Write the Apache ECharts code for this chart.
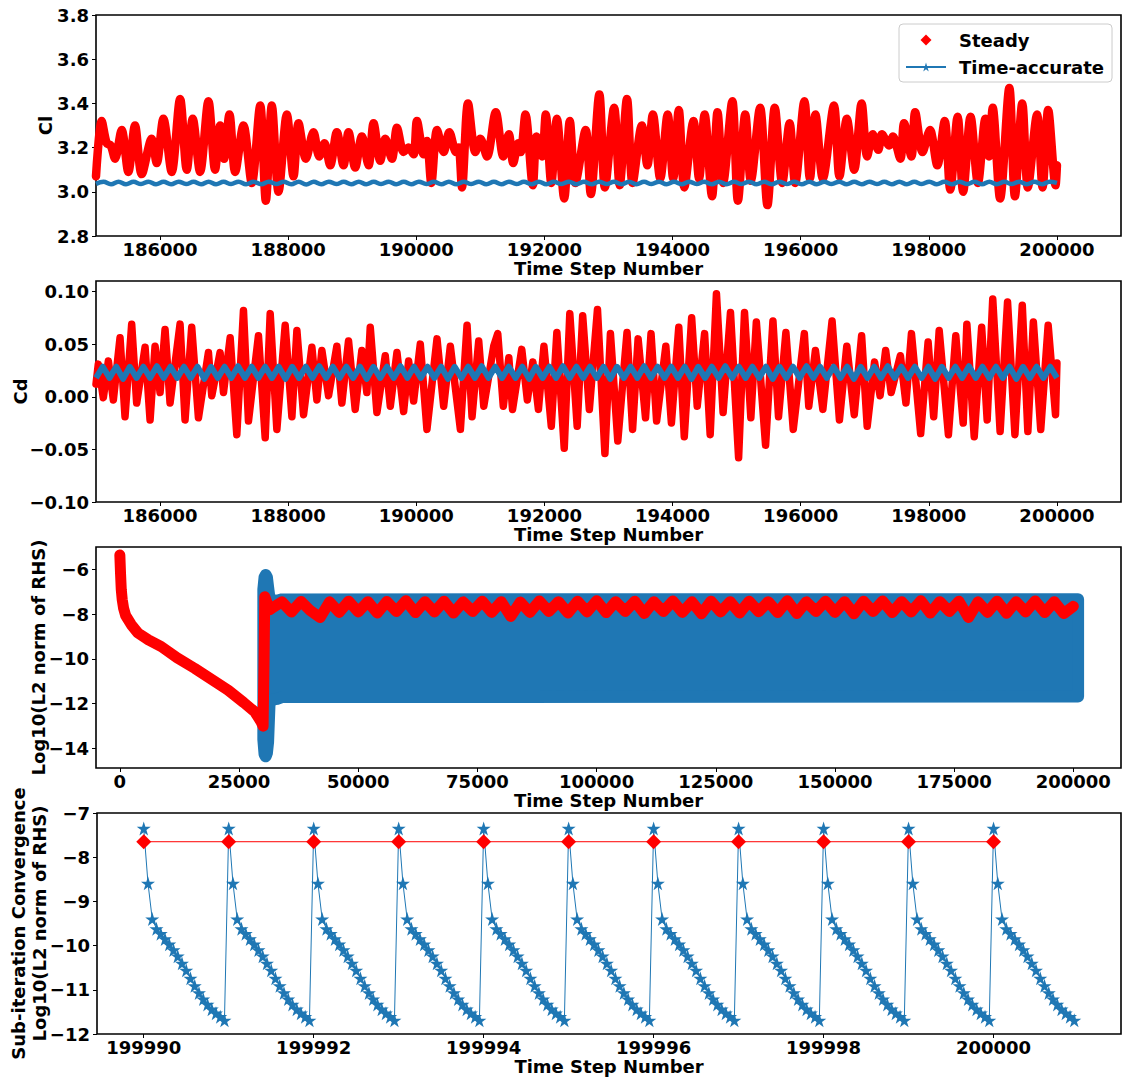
<!DOCTYPE html>
<html><head><meta charset="utf-8">
<script src="https://cdn.jsdelivr.net/npm/echarts@6/dist/echarts.min.js"></script>
<style>html,body{margin:0;padding:0;background:#fff}#c{width:1122px;height:1078px}</style>
</head><body><div id="c"></div>
<script>
// ---------------- DATA ----------------
// Panel 1 (Cl) – Steady: [time step, Cl] read at visible peaks/troughs
const p1Steady = [[185000,3.07],[185089,3.32],[185167,3.22],[185230,3.21],[185297,3.15],[185401,3.28],[185505,3.09],[185609,3.30],[185714,3.08],[185870,3.24],[185948,3.13],[186052,3.33],[186182,3.09],[186313,3.42],[186417,3.10],[186510,3.33],[186625,3.09],[186755,3.41],[186859,3.10],[186938,3.30],[187000,3.15],[187083,3.35],[187172,3.09],[187302,3.30],[187432,3.04],[187563,3.39],[187651,2.96],[187745,3.39],[187849,3.00],[187979,3.35],[188083,3.07],[188161,3.31],
[188276,3.15],[188395,3.27],[188484,3.16],[188567,3.22],[188656,3.12],[188760,3.27],[188864,3.12],[188942,3.27],[189046,3.11],[189150,3.25],[189255,3.12],[189333,3.31],[189437,3.14],[189515,3.24],[189619,3.15],[189698,3.29],[189802,3.18],[189880,3.20],[189958,3.17],[190010,3.32],[190114,3.17],[190167,3.23],[190234,3.04],[190323,3.28],[190427,3.18],[190515,3.27],[190620,3.18],[190661,3.20],[190713,3.02],[190807,3.40],[190922,3.18],[191000,3.24],[191104,3.16],[191240,3.36],
[191358,3.16],[191444,3.26],[191513,3.13],[191588,3.22],[191630,3.18],[191704,3.35],[191819,3.03],[191877,3.25],[191963,3.16],[192021,3.35],[192107,3.04],[192194,3.33],[192309,2.97],[192396,3.32],[192482,3.04],[192644,3.28],[192724,2.99],[192857,3.44],[192944,3.02],[193088,3.38],[193174,3.03],[193289,3.42],[193376,3.04],[193520,3.30],[193607,3.12],[193693,3.35],[193808,3.06],[193924,3.35],[194010,3.06],[194097,3.37],[194183,3.02],[194327,3.32],[194414,3.06],[194500,3.35],[194616,2.98],[194702,3.36],[194789,3.04],[194933,3.41],[195020,2.96],[195135,3.35],[195222,3.05],[195366,3.38],[195481,2.94],[195596,3.38],[195712,3.04],[195827,3.31],[195914,3.04],[196058,3.41],[196144,3.06],[196230,3.35],[196346,3.06],[196519,3.39],[196605,3.07],[196720,3.33],[196836,3.10],[196951,3.40],[197038,3.16],[197124,3.26],[197211,3.19],[197268,3.26],[197383,3.21],[197441,3.25],[197556,3.15],[197614,3.31],[197729,3.16],[197787,3.36],[197902,3.18],[198018,3.28],[198133,3.12],[198248,3.32],[198335,3.01],[198450,3.34],[198536,3.00],[198652,3.34],[198767,3.04],[198882,3.33],[198940,3.16],[198998,3.38],[199113,2.97],[199257,3.47],[199344,2.98],[199459,3.40],[199546,3.02],[199690,3.35],[199776,3.02],[199863,3.37],[199978,3.03],[200000,3.12]];

// Panel 1 (Cl) – Time-accurate: alternating crest/trough values, evenly spaced 185000..200000
const p1TimeAcc = [3.036,3.045,3.034,3.046,3.034,3.045,3.035,3.046,3.034,3.045,
3.034,3.046,3.035,3.045,3.034,3.046,3.034,3.045,3.035,3.046,
3.034,3.045,3.034,3.046,3.035,3.045,3.034,3.046,3.033,3.045,
3.034,3.046,3.035,3.045,3.034,3.046,3.034,3.045,3.035,3.046,
3.034,3.045,3.034,3.046,3.035,3.045,3.034,3.046,3.034,3.045,
3.035,3.046,3.034,3.045,3.034,3.046,3.035,3.045,3.034,3.046,
3.034,3.045,3.035,3.046,3.034,3.045,3.034,3.046,3.035,3.045,
3.034,3.046,3.034,3.045,3.035,3.046,3.034,3.045,3.034,3.046,
3.035,3.045,3.034,3.046,3.034,3.045,3.035,3.046,3.034,3.045,
3.034,3.046,3.035,3.045,3.034,3.046,3.034,3.045,3.035,3.046,
3.034,3.045,3.034,3.046,3.035,3.045,3.034,3.046,3.034,3.045,
3.035,3.046,3.034,3.045,3.034,3.046,3.035,3.045,3.034,3.046,
3.034,3.045,3.035,3.046,3.034,3.045,3.034,3.046,3.040];

// Panel 2 (Cd) – Steady: [time step, Cd]
const p2Steady = [[185000,0.012],[185036,0.031],[185114,-0.001],[185193,0.034],[185271,-0.003],[185375,0.056],[185453,-0.019],[185557,0.069],[185635,-0.006],[185766,0.047],[185844,-0.022],[185922,0.048],[186000,0.004],[186078,0.064],[186156,-0.006],[186312,0.069],[186390,-0.022],[186494,0.066],[186599,-0.020],[186755,0.042],[186807,0.001],[186937,0.042],[186990,0.004],[187094,0.056],[187198,-0.036],[187302,0.082],[187380,-0.023],[187536,0.058],[187641,-0.039],[187719,0.079],[187823,-0.031],[187953,0.068],[188058,-0.019],[188136,0.063],[188240,-0.017],[188370,0.047],[188448,-0.003],[188526,0.044],[188630,0.001],[188760,0.048],[188838,-0.006],[188942,0.053],[189046,-0.012],[189150,0.044],[189228,0.004],[189281,0.066],[189385,-0.015],[189515,0.039],[189594,-0.009],[189698,0.042],[189802,-0.014],[189880,0.034],[189958,-0.004],[190062,0.050],[190166,-0.031],[190323,0.055],[190427,-0.009],[190531,0.048],[190688,-0.031],[190792,0.068],[190870,-0.019],[190974,0.053],[191053,-0.009],[191208,0.048],
[191271,0.060],[191358,-0.009],[191444,0.037],[191502,-0.012],[191646,0.045],[191733,-0.003],[191819,0.033],[191906,-0.012],[191992,0.048],[192107,-0.028],[192194,0.061],[192309,-0.049],[192396,0.079],[192511,-0.028],[192597,0.077],[192701,-0.012],[192828,0.083],[192944,-0.054],[193030,0.060],[193145,-0.042],[193289,0.061],[193376,-0.031],[193462,0.055],[193578,-0.020],[193664,0.060],[193751,-0.023],[193895,0.048],[193982,-0.025],[194097,0.066],[194183,-0.038],[194298,0.075],[194385,-0.009],[194500,0.060],[194587,-0.036],[194685,0.098],[194789,-0.015],[194904,0.080],[195031,-0.058],[195123,0.080],[195222,-0.020],[195308,0.071],[195452,-0.046],[195567,0.072],[195654,-0.019],[195769,0.061],[195884,-0.031],[196057,0.060],[196126,-0.009],[196230,0.044],[196346,-0.012],[196490,0.072],[196605,-0.022],[196720,0.048],[196836,-0.017],[196951,0.058],[197038,-0.028],[197153,0.033],[197239,0.001],[197326,0.044],[197412,0.004],[197556,0.039],[197643,-0.006],[197729,0.060],[197873,-0.035],[197989,0.052],[198076,-0.019],[198162,0.063],[198306,-0.036],[198421,0.058],[198537,-0.025],[198594,0.069],[198709,-0.038],[198825,0.066],[198911,-0.022],[198998,0.093],[199113,-0.033],[199229,0.090],[199344,-0.036],[199459,0.087],[199546,-0.033],[199632,0.071],[199747,-0.031],[199863,0.068],[199978,-0.017],[200000,0.032]];

// Panel 2 (Cd) – Time-accurate: alternating dip/crest values, evenly spaced 185000..200000
const p2TimeAcc = [0.018,0.0285,0.018,0.0285,0.017,0.0285,0.018,0.0285,0.018,0.029,
0.018,0.0285,0.018,0.0285,0.018,0.0285,0.017,0.0285,0.018,0.0285,
0.018,0.029,0.018,0.0285,0.018,0.0285,0.018,0.0285,0.017,0.0285,
0.018,0.0285,0.018,0.029,0.018,0.0285,0.018,0.0285,0.018,0.0285,
0.017,0.0285,0.018,0.0285,0.018,0.029,0.018,0.0285,0.018,0.0285,
0.018,0.0285,0.017,0.0285,0.018,0.0285,0.018,0.029,0.018,0.0285,
0.018,0.0285,0.018,0.0285,0.017,0.0285,0.018,0.0285,0.018,0.029,
0.018,0.0285,0.018,0.0285,0.018,0.0285,0.017,0.0285,0.018,0.0285,
0.018,0.029,0.018,0.0285,0.018,0.0285,0.018,0.0285,0.017,0.0285,
0.018,0.0285,0.018,0.029,0.018,0.0285,0.018,0.0285,0.018,0.0285,
0.017,0.0285,0.018,0.0285,0.018,0.029,0.018,0.0285,0.018,0.0285,
0.018,0.0285,0.017,0.0285,0.018,0.0285,0.018,0.029,0.018,0.0285,
0.018,0.0285,0.018,0.0285,0.017,0.0285,0.018,0.0285,0.018,0.029,
0.018,0.0285,0.018,0.0285,0.018,0.0285,0.017,0.0285,0.018,0.0285,
0.018,0.0285,0.018];

// Panel 3 (residual history) – Steady: initial decay + jump [time step, log10 residual]
const p3SteadyEarly = [[0,-5.36],[150,-6.2],[300,-6.9],[500,-7.35],[800,-7.75],[1200,-8.05],[2400,-8.47],[3800,-8.84],[6000,-9.15],[8700,-9.45],[12000,-9.95],[15700,-10.42],[19000,-10.88],[22700,-11.39],[26000,-11.95],[28300,-12.36],[29600,-12.8],[30050,-13.0],[30250,-10.0],[30400,-7.22],[30800,-7.45],[31500,-7.80]];
// Panel 3 – Steady after the jump, every 2000 steps from 32000 to 200000
const p3SteadyTail = [-7.72,-7.45,-7.90,-7.43,-7.85,-8.15,-7.45,-7.92,-7.42,-7.90,
-7.44,-7.95,-7.43,-7.88,-7.40,-7.93,-7.44,-7.90,-7.42,-7.95,
-7.45,-7.88,-7.42,-7.92,-7.44,-8.10,-7.46,-7.92,-7.41,-7.88,
-7.44,-7.95,-7.42,-7.90,-7.40,-7.93,-7.44,-7.88,-7.42,-7.97,
-7.44,-7.88,-7.41,-7.92,-7.45,-7.98,-7.42,-7.90,-7.44,-7.95,
-7.42,-7.89,-7.44,-7.93,-7.40,-7.97,-7.45,-7.88,-7.42,-7.92,
-7.44,-7.98,-7.42,-7.88,-7.41,-7.93,-7.44,-7.90,-7.40,-7.95,
-7.44,-7.88,-7.42,-8.15,-7.45,-7.92,-7.42,-7.96,-7.44,-7.90,
-7.41,-7.93,-7.44,-7.97,-7.65];
// Panel 3 – Time-accurate envelope (sub-iteration residual max / min per step)
const p3BandX     = [30100, 30350, 30600, 30850, 31100, 31400, 32000, 33000, 34000, 201000];
const p3BandUpper = [-6.90, -6.35, -6.25, -6.35, -6.80, -7.30, -7.38, -7.40, -7.34, -7.33];
const p3BandLower = [-13.60,-14.25,-14.35,-14.20,-13.70,-12.00,-11.82,-11.78,-11.70,-11.68];

// Panel 4 – last time steps
const p4Steps = [199990,199991,199992,199993,199994,199995,199996,199997,199998,199999,200000];
const p4SteadyRes = [-7.65,-7.65,-7.65,-7.65,-7.65,-7.65,-7.65,-7.65,-7.65,-7.65,-7.65];
// residual at each of the 20 sub-iterations inside one physical time step
const p4SubIterRes = [-7.35,-8.59,-9.40,-9.62,-9.73,-9.85,-9.97,-10.10,-10.24,-10.40,-10.56,-10.74,-10.91,-11.07,-11.21,-11.33,-11.44,-11.53,-11.61,-11.69];

// tick labels
const p12Ticks = [186000,188000,190000,192000,194000,196000,198000,200000];
const p3XTicks = [0,25000,50000,75000,100000,125000,150000,175000,200000];
const p4XTicks = [199990,199992,199994,199996,199998,200000];
const p1YTicks = [2.8,3.0,3.2,3.4,3.6,3.8];
const p2YTicks = [-0.10,-0.05,0,0.05,0.10];
const p3YTicks = [-14,-12,-10,-8,-6];
const p4YTicks = [-12,-11,-10,-9,-8,-7];

// ---------------- BUILD ----------------
const RED = '#ff0000', BLUE = '#1f77b4';
const STAR = 'path://M100,0L122.45,69.1L195.1,69.1L136.3,111.8L158.8,180.9L100,138.2L41.2,180.9L63.7,111.8L4.9,69.1L77.55,69.1Z';
const LEG_DIAMOND = 'path://M0,0M40,11M14.5,5.5L20,0L25.5,5.5L20,11Z';
const FONT = {fontFamily:'DejaVu Sans', fontWeight:'bold', fontSize:18, color:'#000', lineHeight:18};
const minus = s => String(s).replace('-', '\u2212');

function onGrid(vals, x0, x1){ const n = vals.length; return vals.map((v,i)=>[x0 + i*(x1-x0)/(n-1), v]); }

const p1TA = onGrid(p1TimeAcc, 185000, 200000);
const p2TA = onGrid(p2TimeAcc, 185000, 200000);
const p3St = p3SteadyEarly.concat(p3SteadyTail.map((v,i)=>[32000 + i*2000, v]));
const p4St = p4Steps.map((s,i)=>[s, p4SteadyRes[i]]);
const p4TA = [];
p4Steps.forEach(s => p4SubIterRes.forEach((r,k) => p4TA.push([s + k/p4SubIterRes.length, r])));

const tops = [15, 281, 547, 813];
const grids = tops.map(t => ({left:96, width:1025, top:t, height:221, show:true, borderColor:'#000', borderWidth:1.6, backgroundColor:'transparent'}));

function xAx(gi, min, max, ticks){
  return {type:'value', gridIndex:gi, min, max,
    name:'Time Step Number', nameLocation:'middle', nameGap:23, nameMoveOverlap:false, nameTextStyle:Object.assign({}, FONT),
    axisLine:{show:false, onZero:false}, splitLine:{show:false},
    axisTick:{show:true, inside:false, length:4, lineStyle:{color:'#000', width:1}, customValues:ticks},
    axisLabel:Object.assign({}, FONT, {margin:4, customValues:ticks, formatter:v=>String(Math.round(v))})};
}
function yAx(gi, min, max, ticks, name, gap, fmt){
  return {type:'value', gridIndex:gi, min, max,
    name, nameLocation:'middle', nameRotate:90, nameGap:gap, nameMoveOverlap:false, nameTextStyle:Object.assign({}, FONT, {lineHeight:21}),
    axisLine:{show:false, onZero:false}, splitLine:{show:false},
    axisTick:{show:true, inside:false, length:4, lineStyle:{color:'#000', width:1}, customValues:ticks},
    axisLabel:Object.assign({}, FONT, {margin:7, customValues:ticks, formatter:fmt})};
}

const option = {
  animation:false,
  backgroundColor:'#fff',
  grid: grids,
  xAxis: [
    xAx(0, 185000, 201000, p12Ticks),
    xAx(1, 185000, 201000, p12Ticks),
    xAx(2, -5000, 210000, p3XTicks),
    xAx(3, 199989.45, 200001.5, p4XTicks)
  ],
  yAxis: [
    yAx(0, 2.8, 3.8, p1YTicks, 'Cl', 40, v=>v.toFixed(1)),
    yAx(1, -0.10, 0.11, p2YTicks, 'Cd', 65, v=>minus((Math.abs(v)<1e-9?0:v).toFixed(2))),
    yAx(2, -14.87, -5.0, p3YTicks, 'Log10(L2 norm of RHS)', 47, v=>minus(Math.round(v))),
    yAx(3, -12, -7, p4YTicks, 'Sub-iteration Convergence\nLog10(L2 norm of RHS)', 47, v=>minus(Math.round(v)))
  ],
  legend: {
    left:899, top:24, orient:'vertical', itemWidth:40, itemHeight:11, itemGap:9,
    padding:[7,8,6,6], borderColor:'#cccccc', borderWidth:1, borderRadius:4,
    backgroundColor:'rgba(255,255,255,0.8)',
    textStyle:Object.assign({}, FONT, {padding:[0,0,0,8]}),
    data:[{name:'Steady', icon:LEG_DIAMOND}, {name:'Time-accurate'}]
  },
  series: [
    // panel 4 first (legend icons come from these)
    {name:'Time-accurate', type:'line', xAxisIndex:3, yAxisIndex:3, data:p4TA, symbol:STAR, symbolSize:14, showSymbol:true, showAllSymbol:true,
      lineStyle:{color:BLUE, width:1}, itemStyle:{color:BLUE}, z:2},
    {name:'Steady', type:'line', xAxisIndex:3, yAxisIndex:3, data:p4St, symbol:'diamond', symbolSize:15, showSymbol:true,
      lineStyle:{color:RED, width:1}, itemStyle:{color:RED}, z:3},
    // panel 1
    {name:'Steady', type:'line', xAxisIndex:0, yAxisIndex:0, data:p1Steady, symbol:'none', showSymbol:false, smooth:0.3,
      lineStyle:{color:RED, width:8.5, join:'round', cap:'round'}, itemStyle:{color:RED}, z:2},
    {name:'Time-accurate', type:'line', xAxisIndex:0, yAxisIndex:0, data:p1TA, symbol:'none', showSymbol:false, smooth:0.4,
      lineStyle:{color:BLUE, width:4.5}, itemStyle:{color:BLUE}, z:3},
    // panel 2
    {name:'Steady', type:'line', xAxisIndex:1, yAxisIndex:1, data:p2Steady, symbol:'none', showSymbol:false,
      lineStyle:{color:RED, width:7.5, join:'round', cap:'round'}, itemStyle:{color:RED}, z:2},
    {name:'Time-accurate', type:'line', xAxisIndex:1, yAxisIndex:1, data:p2TA, symbol:'none', showSymbol:false,
      lineStyle:{color:BLUE, width:6, join:'round'}, itemStyle:{color:BLUE}, z:3},
    // panel 3: time-accurate envelope band drawn through the axis scales
    {name:'Time-accurate', type:'custom', coordinateSystem:'cartesian2d', xAxisIndex:2, yAxisIndex:2, silent:true, z:2,
      data:[[p3BandX[0], p3BandUpper[0]]],
      renderItem:(params, api) => {
        const up = p3BandX.map((x,i)=>api.coord([x, p3BandUpper[i]]));
        const lo = p3BandX.map((x,i)=>api.coord([x, p3BandLower[i]])).reverse();
        return {type:'polygon', shape:{points: up.concat(lo)}, style:{fill:BLUE, stroke:BLUE, lineWidth:12, lineJoin:'round'}};
      }},
    {name:'Steady', type:'line', xAxisIndex:2, yAxisIndex:2, data:p3St, symbol:'none', showSymbol:false,
      lineStyle:{color:RED, width:11, join:'round', cap:'round'}, itemStyle:{color:RED}, z:3}
  ]
};
const chart = echarts.init(document.getElementById('c'), null, {renderer:'svg'});
chart.setOption(option);
</script></body></html>
